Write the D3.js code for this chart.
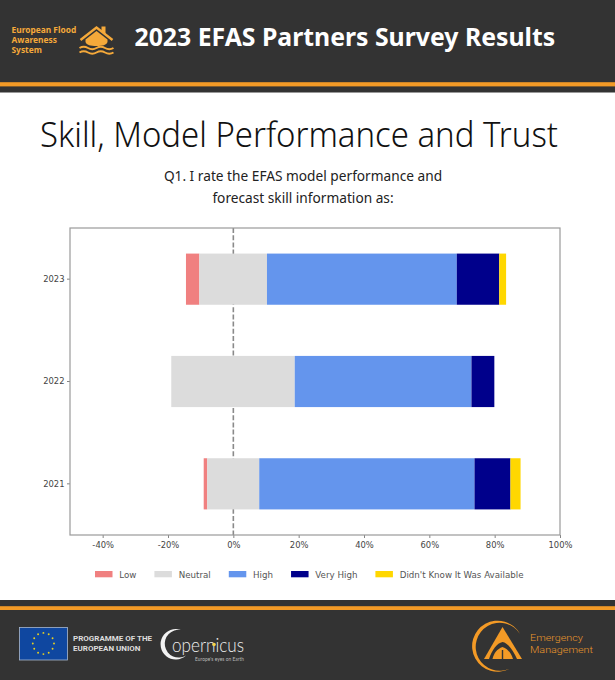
<!DOCTYPE html>
<html><head><meta charset="utf-8">
<script src="https://cdn.jsdelivr.net/npm/d3@7/dist/d3.min.js"></script>
<style>html,body{margin:0;padding:0;background:#fff}svg{display:block}</style>
</head><body><svg id="c" width="615" height="680"></svg>
<script>
const years = ["2023","2022","2021"];
const categories = ["Low","Neutral","High","Very High","Didn't Know It Was Available"];
const low     = [4.1, 0, 1.1];
const neutral = [20.7, 37.8, 15.9];
const high    = [58.1, 54.1, 65.9];
const veryHigh= [13.0, 7.0, 11.0];
const dontKnow= [2.1, 0, 3.1];
const starts  = [-14.5, -19.0, -9.07];
const xTicks  = [-40,-20,0,20,40,60,80,100];
const colors  = ["#f08080","#dcdcdc","#6495ed","#00008b","#ffd700"];
const series  = [low,neutral,high,veryHigh,dontKnow];

const svg = d3.select("#c");
const DARK="#333333", ORANGE="#f39a26", LOGO="#f5a93a";
const EC = "'Noto Sans','Open Sans',sans-serif";
const MPL = "'DejaVu Sans',sans-serif";

// header + footer bands
svg.append("rect").attr("width",615).attr("height",92.5).attr("fill",DARK);
svg.append("rect").attr("y",82.2).attr("width",615).attr("height",4.2).attr("fill",ORANGE);
svg.append("rect").attr("y",600).attr("width",615).attr("height",80).attr("fill",DARK);
svg.append("rect").attr("y",606.2).attr("width",615).attr("height",3.8).attr("fill",ORANGE);

// header
const hdr=svg.append("g");
["European Flood","Awareness","System"].forEach((t,i)=>hdr.append("text").attr("x",11.5).attr("y",33.3+i*9.6)
  .attr("font-family",EC).attr("font-weight",700).attr("font-size",8.4).attr("fill",LOGO).text(t));
const h=hdr.append("g").attr("transform","translate(96.5,41)");
h.append("path").attr("fill",LOGO).attr("d","M5,-14.5 L9,-14.5 L9,-7 L5,-9 Z");
h.append("path").attr("fill","none").attr("stroke",LOGO).attr("stroke-width",2.4).attr("d","M-16,-1 L0,-13.5 L16,-1");
h.append("path").attr("fill",LOGO).attr("d","M-11,-1.5 L0,-10 L11,-1.5 L11,1 C10,4 6,5 0,5 C-6,5 -10,4 -11,1 Z");
[7,11.5].forEach(d=>h.append("path").attr("fill","none").attr("stroke",LOGO).attr("stroke-width",1.9)
  .attr("d",`M-17,${d} q4.2,-2.6 8.5,0 t8.5,0 t8.5,0 t8.5,0`));
hdr.append("text").attr("x",134.5).attr("y",46).attr("font-family",EC).attr("font-weight",700)
  .attr("font-size",24.8).attr("fill","#fff").text("2023 EFAS Partners Survey Results");

// titles
svg.append("text").attr("x",299).attr("y",147).attr("text-anchor","middle").attr("font-family",EC)
  .attr("font-weight",300).attr("font-size",34).attr("fill","#111")
  .attr("textLength",518).attr("lengthAdjust","spacingAndGlyphs").text("Skill, Model Performance and Trust");
["Q1. I rate the EFAS model performance and","forecast skill information as:"].forEach((t,i)=>
  svg.append("text").attr("x",303).attr("y",180.5+i*22.6).attr("text-anchor","middle").attr("font-family",EC)
   .attr("font-size",13.7).attr("fill","#222").text(t));

// chart
const L=70,R=560,T=228,B=535;
const x=d3.scaleLinear().domain([-50,100]).range([L,R]);
const y=d3.scaleBand().domain(years).range([T,B]).paddingInner(0.5).paddingOuter(0.25);
const g=svg.append("g");
g.append("line").attr("x1",x(0)).attr("x2",x(0)).attr("y1",T).attr("y2",B)
  .attr("stroke","#8a8a8a").attr("stroke-width",1.6).attr("stroke-dasharray","5,2.2");
years.forEach((yr,i)=>{
  let cum=starts[i];
  series.forEach((s,k)=>{
    if(s[i]>0){
      g.append("rect").attr("x",x(cum)).attr("y",y(yr)).attr("width",x(cum+s[i])-x(cum))
       .attr("height",y.bandwidth()).attr("fill",colors[k]);
    }
    cum+=s[i];
  });
});
const ax=g.append("g").attr("transform",`translate(0,${B})`)
  .call(d3.axisBottom(x).tickValues(xTicks).tickFormat(d=>d+"%").tickSize(3).tickPadding(4));
const ay=g.append("g").attr("transform",`translate(${L},0)`)
  .call(d3.axisLeft(y).tickSize(3).tickPadding(2.5));
[ax,ay].forEach(a=>{a.select(".domain").remove();
  a.selectAll("text").attr("font-family",MPL).attr("font-size",8.4).attr("fill","#444");
  a.selectAll("line").attr("stroke","#666").attr("stroke-width",0.8);});
g.append("rect").attr("x",L).attr("y",T).attr("width",R-L).attr("height",B-T)
  .attr("fill","none").attr("stroke","#9a9a9a").attr("stroke-width",1.2);

// legend
let lx=95;
categories.forEach((c,k)=>{
  g.append("rect").attr("x",lx).attr("y",571).attr("width",17.5).attr("height",6.3).attr("fill",colors[k]);
  const t=g.append("text").attr("x",lx+24.3).attr("y",577.5).attr("font-family",MPL).attr("font-size",8.7)
    .attr("fill","#555").text(c);
  lx+=24.3+t.node().getComputedTextLength()+18;
});

// footer: EU flag
const f=svg.append("g");
f.append("rect").attr("x",19.5).attr("y",627.5).attr("width",48).attr("height",32.5)
  .attr("fill","#0f47a0").attr("stroke","#a8b8d0").attr("stroke-width",0.8);
d3.range(12).forEach(i=>{const a=i/12*2*Math.PI;
  f.append("circle").attr("cx",43.4+10.6*Math.cos(a)).attr("cy",643.5+10.6*Math.sin(a)).attr("r",0.95).attr("fill","#e8d020");});
["PROGRAMME OF THE","EUROPEAN UNION"].forEach((t,i)=>f.append("text").attr("x",73).attr("y",641+i*10)
  .attr("font-family","Roboto,sans-serif").attr("font-weight",700).attr("font-size",8).attr("fill","#ddd").text(t));
// Copernicus
f.append("path").attr("fill","#f2f2f2")
  .attr("d","M181,630 A15.2,15.2 0 1 0 186,655.5 A13.9,13.9 0 1 1 181,630 Z");
f.append("text").attr("x",172).attr("y",652).attr("font-family","Lato,sans-serif").attr("font-weight",300)
  .attr("font-size",19).attr("fill","#eee").attr("textLength",72).attr("lengthAdjust","spacingAndGlyphs").text("opernicus");
f.append("circle").attr("cx",214).attr("cy",644.5).attr("r",1.8).attr("fill","#f4d24a");
f.append("text").attr("x",195).attr("y",661).attr("font-family","Lato,sans-serif").attr("font-size",4.8).attr("fill","#bbb")
  .attr("textLength",49).text("Europe's eyes on Earth");
// Emergency Management
f.append("path").attr("fill",ORANGE)
  .attr("d","M520,634 A25.5,25.5 0 1 0 510,668.5 A24,24 0 1 1 520,634 Z");
f.append("path").attr("fill",ORANGE).attr("d","M502.5,627 L522,659 L484,659 Z");
f.append("path").attr("fill",DARK).attr("d","M489,659 C492,650 497,643 502.5,642 C508,643 513,650 517,659 L513,659 C511,653 508,649 502.5,647 C497,649 494,653 492.5,659 Z");
f.append("path").attr("fill",DARK).attr("d","M501.8,650 L503.2,650 L503.2,659 L501.8,659 Z");
["Emergency","Management"].forEach((t,i)=>f.append("text").attr("x",530).attr("y",641+i*11.8)
  .attr("font-family","Roboto,sans-serif").attr("font-weight",300).attr("font-size",9.9).attr("fill","#e9962c")
  .attr("textLength",i?63:53).attr("lengthAdjust","spacingAndGlyphs").text(t));
</script></body></html>
